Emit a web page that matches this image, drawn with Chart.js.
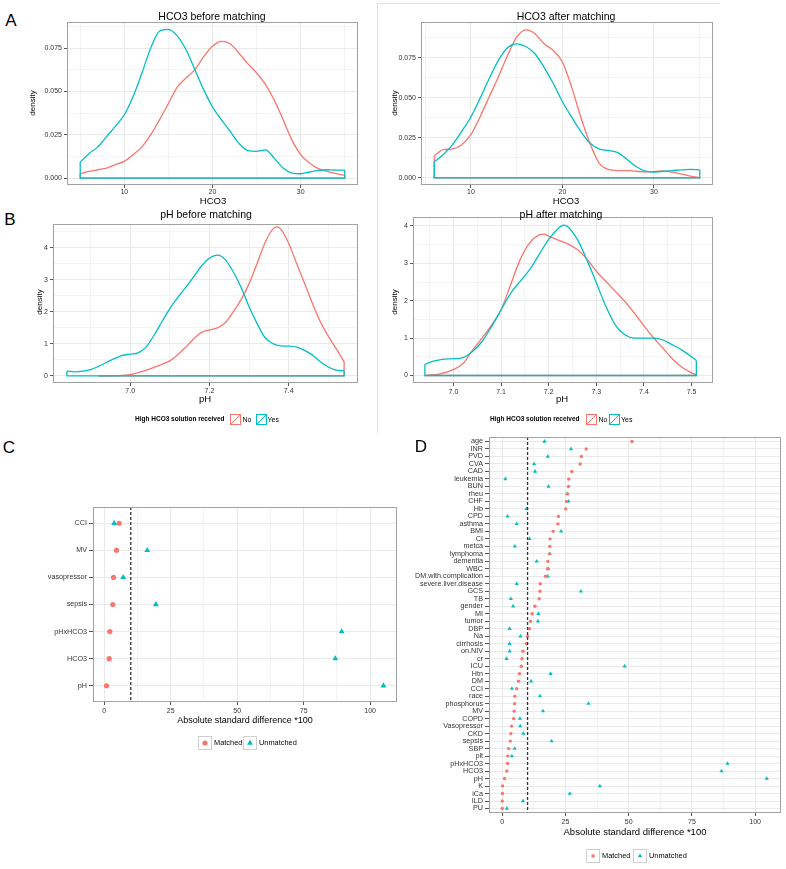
<!DOCTYPE html>
<html><head><meta charset="utf-8">
<script src="https://cdn.jsdelivr.net/npm/chart.js@4.4.1/dist/chart.umd.min.js"></script>
<style>
html,body{margin:0;padding:0;background:#fff;}
body{width:786px;height:869px;position:relative;overflow:hidden;font-family:'Liberation Sans',Arial,Helvetica,sans-serif;}
canvas{position:absolute;}
.t{position:absolute;white-space:nowrap;color:#000;line-height:1;}
.k{position:absolute;line-height:0;}
.ln{position:absolute;background:#e2e2e2;}
</style></head><body>
<script>
// ---------------- DATA ----------------
// Panel A: HCO3 densities
const hco3BeforeX = [5,6,7,8,9,10,11,12,13,14,15,16,17,18,19,20,21,22,23,24,25,26,27,28,29,30,31,32,33,34,35];
const hco3BeforeNo = [0.0025,0.0038,0.0048,0.0058,0.0077,0.0096,0.0135,0.018,0.025,0.0337,0.043,0.0525,0.0577,0.0625,0.070,0.076,0.0788,0.0775,0.072,0.066,0.0606,0.054,0.045,0.0337,0.022,0.0135,0.0087,0.0054,0.0038,0.0025,0.0015];
const hco3BeforeYes = [0.0092,0.0142,0.018,0.024,0.030,0.0365,0.047,0.0606,0.075,0.0848,0.0858,0.082,0.074,0.0625,0.051,0.041,0.0337,0.027,0.020,0.0158,0.0154,0.0163,0.0115,0.0058,0.0029,0.0025,0.0035,0.0044,0.0048,0.0046,0.0046];
const hco3AfterX = [6,7,8,9,10,11,12,13,14,15,16,17,18,19,20,21,22,23,24,25,26,27,28,29,30,31,32,33,34,35];
const hco3AfterNo = [0.0138,0.0176,0.018,0.0207,0.0269,0.038,0.0506,0.063,0.0764,0.0878,0.0924,0.09,0.0837,0.0795,0.0723,0.0568,0.038,0.0217,0.0093,0.0052,0.0045,0.0045,0.0041,0.0037,0.0039,0.0043,0.0035,0.0023,0.001,0.0002];
const hco3AfterYes = [0.0099,0.0145,0.0207,0.029,0.038,0.0496,0.062,0.0733,0.0812,0.0837,0.082,0.0775,0.069,0.0589,0.0475,0.038,0.029,0.0217,0.018,0.0171,0.0159,0.0118,0.0072,0.0043,0.0035,0.0041,0.0045,0.005,0.0052,0.005];

// Panel B: pH densities
const phBeforeYesX = [6.84,6.86,6.88,6.90,6.92,6.94,6.96,6.98,7.00,7.02,7.04,7.06,7.08,7.10,7.12,7.14,7.16,7.18,7.20,7.22,7.24,7.26,7.28,7.30,7.32,7.34,7.36,7.38,7.40,7.42,7.44,7.46,7.48,7.50,7.52,7.54];
const phBeforeYes = [0.15,0.13,0.15,0.2,0.3,0.42,0.54,0.64,0.68,0.72,0.9,1.27,1.69,2.1,2.45,2.76,3.09,3.43,3.67,3.77,3.63,3.25,2.76,2.16,1.64,1.2,1.01,0.94,0.93,0.9,0.8,0.65,0.44,0.28,0.18,0.16];
const phBeforeNoX = [6.92,6.94,6.96,6.98,7.00,7.02,7.04,7.06,7.08,7.10,7.12,7.14,7.16,7.18,7.20,7.22,7.24,7.26,7.28,7.30,7.32,7.34,7.36,7.37,7.38,7.40,7.42,7.44,7.46,7.48,7.50,7.52,7.54];
const phBeforeNo = [0,0.003,0.01,0.02,0.04,0.1,0.18,0.27,0.36,0.47,0.66,0.9,1.15,1.36,1.43,1.5,1.66,2.0,2.38,2.88,3.5,4.15,4.58,4.65,4.58,4.14,3.51,2.89,2.26,1.69,1.24,0.85,0.44];
const phAfterYesX = [6.94,6.96,6.98,7.00,7.02,7.04,7.06,7.08,7.10,7.12,7.14,7.16,7.18,7.20,7.22,7.23,7.24,7.26,7.28,7.30,7.32,7.34,7.36,7.38,7.40,7.42,7.44,7.46,7.48,7.50,7.51];
const phAfterYes = [0.30,0.39,0.44,0.45,0.48,0.64,0.91,1.31,1.76,2.2,2.52,2.83,3.24,3.64,3.93,4.02,3.98,3.64,3.1,2.48,1.85,1.35,1.09,1.0,1.0,1.0,0.95,0.82,0.68,0.5,0.40];
const phAfterNoX = [6.94,6.97,7.00,7.02,7.04,7.06,7.08,7.10,7.12,7.14,7.16,7.18,7.19,7.20,7.22,7.24,7.26,7.28,7.30,7.32,7.34,7.36,7.38,7.40,7.42,7.44,7.46,7.48,7.50,7.51];
const phAfterNo = [0.0,0.04,0.16,0.32,0.68,1.0,1.35,1.76,2.43,3.1,3.55,3.76,3.78,3.73,3.62,3.52,3.37,3.12,2.79,2.52,2.25,1.98,1.67,1.33,1.01,0.73,0.44,0.22,0.07,0.02];

// Panel C
const cCats = ['CCI','MV','vasopressor','sepsis','pHxHCO3','HCO3','pH'];
const cMatched = [5.65,4.64,3.51,3.26,2.13,1.88,0.88];
const cUnmatched = [3.76,16.19,7.15,19.45,89.3,86.9,105.0];

// Panel D
const dCats = ['age','INR','PVD','CVA','CAD','leukemia','BUN','rheu','CHF','Hb','CPD','asthma','BMI','CI','metca','lymphoma','dementia','WBC','DM.with.complication','severe.liver.disease','GCS','TB','gender','MI','tumor','DBP','Na','cirrhosis','on.NIV','cr','ICU','Htn','DM','CCI','race','phosphorus','MV','COPD','Vasopressor','CKD','sepsis','SBP','plt','pHxHCO3','HCO3','pH','K','iCa','ILD','PU'];
const dMatched = [51.3,33.2,31.3,30.8,27.5,26.3,26.2,25.8,25.4,25.1,22.2,22.0,20.1,18.9,18.8,18.7,18.0,17.9,17.1,15.0,14.9,14.6,12.9,11.8,11.2,10.8,10.0,9.6,8.2,7.8,7.5,6.8,6.4,5.7,5.0,4.9,4.7,4.5,3.7,3.4,3.2,2.5,2.2,2.1,1.8,0.9,0.1,0.1,0.0,0.0];
const dUnmatched = [16.7,27.2,18.0,12.6,13.0,1.2,18.3,25.6,26.2,9.6,2.1,5.7,23.3,10.8,5.0,18.8,13.6,18.2,18.0,5.7,31.1,3.4,4.3,14.3,14.1,2.9,7.2,2.9,2.9,1.7,48.4,19.1,11.4,3.8,14.9,34.1,16.1,7.0,7.1,8.3,19.5,4.9,3.8,89.1,86.7,104.6,38.6,26.7,8.2,1.8];
const threshold = 10;

// Tick labels
const hco3Ticks = [10,20,30];
const hco3TickLabels = ['10','20','30'];
const densTicks = [0,0.025,0.05,0.075];
const densTickLabels = ['0.000','0.025','0.050','0.075'];
const phBeforeTicks = [7.0,7.2,7.4];
const phBeforeTickLabels = ['7.0','7.2','7.4'];
const phAfterTicks = [7.0,7.1,7.2,7.3,7.4,7.5];
const phAfterTickLabels = ['7.0','7.1','7.2','7.3','7.4','7.5'];
const phDensTicks = [0,1,2,3,4];
const phDensTickLabels = ['0','1','2','3','4'];
const asdTicks = [0,25,50,75,100];
const asdTickLabels = ['0','25','50','75','100'];

// ---------------- RENDER ----------------
const FONT = "'Liberation Sans', Arial, Helvetica, sans-serif";
const RED = '#F8766D', TEAL = '#00BFC4';
Chart.defaults.font.family = FONT;

function mkTicks(major, labels, minorStep, lo, hi){
  const out = major.map((v,i)=>({v, l:labels[i]}));
  if(minorStep){
    const first = major[0];
    for(let k=-20;k<=40;k++){
      const v = first + minorStep*(k+0.5);
      if(v>lo && v<hi) out.push({v, l:''});
    }
  }
  return out;
}
function catTicks(cats){ return cats.map((c,i)=>({v:i+1,l:c})); }

const boxPlugin = {id:'box', afterDatasetsDraw(chart){
  const a = chart.chartArea, c = chart.ctx;
  c.save(); c.strokeStyle = '#a2a2a2'; c.lineWidth = 1;
  c.strokeRect(Math.round(a.left)+0.5, Math.round(a.top)+0.5, Math.round(a.right-a.left)-1, Math.round(a.bottom-a.top)-1);
  c.restore();
}};

function axis(o, dir, size){
  return {
    type:'linear', min:o.min, max:o.max, reverse:!!o.reverse,
    afterBuildTicks(s){ s.ticks = o.ticks.map(t=>({value:t.v, lab:t.l})); },
    afterFit(s){
      if(dir==='x'){ s.height = size; s.paddingLeft = 0; s.paddingRight = 0; }
      else { s.width = size; s.paddingTop = 0; s.paddingBottom = 0; }
    },
    ticks:{autoSkip:false, maxRotation:0, minRotation:0, padding:o.pad, color:'#333',
      font:{family:FONT, size:o.fs}, callback:(v,i,ts)=>ts[i].lab},
    grid:{lineWidth:1, tickLength:o.tl||3, drawTicks:true,
      color:c=>(c.tick && c.tick.lab==='')?'#f4f4f4':'#e9e9e9',
      tickColor:c=>(c.tick && c.tick.lab==='')?'rgba(0,0,0,0)':'#555'},
    border:{display:false}
  };
}

function makeChart(box, pad, datasets, xo, yo){
  const cv = document.createElement('canvas');
  const W = box.w+pad.l+pad.r, H = box.h+pad.t+pad.b;
  cv.width = W; cv.height = H;
  cv.style.left = (box.l-pad.l)+'px'; cv.style.top = (box.t-pad.t)+'px';
  cv.style.width = W+'px'; cv.style.height = H+'px';
  document.body.appendChild(cv);
  new Chart(cv, {type:'scatter', data:{datasets}, options:{
    responsive:false, animation:false, devicePixelRatio:1, events:[],
    layout:{padding:{left:0, top:pad.t, right:pad.r, bottom:0}},
    plugins:{legend:{display:false}, tooltip:{enabled:false}, title:{display:false}},
    scales:{x:axis(xo,'x',pad.b), y:axis(yo,'y',pad.l)}
  }, plugins:[boxPlugin]});
}

function densitySets(xN,yN,xY,yY){
  const curve=(xs,ys,col)=>({data:xs.map((x,i)=>({x, y:ys[i]})), showLine:true, borderColor:col, borderWidth:1.3, pointRadius:0, cubicInterpolationMode:'monotone', fill:false});
  const frame=(xs,ys,col)=>{const n=xs.length-1; return {data:[{x:xs[0],y:ys[0]},{x:xs[0],y:0},{x:xs[n],y:0},{x:xs[n],y:ys[n]}], showLine:true, borderColor:col, borderWidth:1.3, pointRadius:0, tension:0, fill:false};};
  return [curve(xY,yY,TEAL), frame(xY,yY,TEAL), curve(xN,yN,RED), frame(xN,yN,RED)];
}

function dotSets(cats, matched, unmatched, rC, rT, ymin, ymax){
  return [
    {data:[{x:threshold,y:ymin},{x:threshold,y:ymax}], showLine:true, borderColor:'#333', borderDash:[3,2], borderWidth:1.3, pointRadius:0},
    {data:cats.map((c,i)=>({x:matched[i], y:i+1})), pointStyle:'circle', pointRadius:rC, backgroundColor:RED, borderWidth:0},
    {data:cats.map((c,i)=>({x:unmatched[i], y:i+1})), pointStyle:'triangle', pointRadius:rT, backgroundColor:TEAL, borderWidth:0}
  ];
}

function txt(s,x,y,size,o={}){
  const d = document.createElement('div'); d.className='t'; d.textContent = s;
  d.style.fontSize = size+'px'; d.style.left = x+'px'; d.style.top = y+'px';
  let tr = o.left ? 'translate(0,-50%)' : 'translate(-50%,-50%)';
  if(o.rot) tr += ' rotate(-90deg)';
  d.style.transform = tr;
  if(o.bold) d.style.fontWeight = 'bold';
  if(o.color) d.style.color = o.color;
  document.body.appendChild(d);
}
function svgKey(x,y,w,h,inner){
  const d = document.createElement('div'); d.className='k';
  d.style.left = x+'px'; d.style.top = y+'px';
  d.innerHTML = `<svg width="${w}" height="${h}" xmlns="http://www.w3.org/2000/svg">${inner}</svg>`;
  document.body.appendChild(d);
}
function line(x,y,w,h){const d=document.createElement('div'); d.className='ln'; d.style.left=x+'px'; d.style.top=y+'px'; d.style.width=w+'px'; d.style.height=h+'px'; document.body.appendChild(d);}

// panel frame lines
line(377,3,343,1); line(377,3,1,430);

// ---- A left
makeChart({l:67,t:22,w:291,h:163},{l:42,t:6,r:6,b:16},
  densitySets(hco3BeforeX,hco3BeforeNo,hco3BeforeX,hco3BeforeYes),
  {min:3.5,max:36.5,ticks:mkTicks(hco3Ticks,hco3TickLabels,10,3.5,36.5),fs:7,pad:0},
  {min:-0.004,max:0.090,ticks:mkTicks(densTicks,densTickLabels,0.025,-0.004,0.090),fs:7,pad:2});
// ---- A right
makeChart({l:421,t:22,w:292,h:163},{l:42,t:6,r:6,b:16},
  densitySets(hco3AfterX,hco3AfterNo,hco3AfterX,hco3AfterYes),
  {min:4.55,max:36.45,ticks:mkTicks(hco3Ticks,hco3TickLabels,10,4.55,36.45),fs:7,pad:0},
  {min:-0.0045,max:0.0973,ticks:mkTicks(densTicks,densTickLabels,0.025,-0.0045,0.0973),fs:7,pad:2});
// ---- B left
makeChart({l:53,t:224,w:305,h:159},{l:26,t:6,r:6,b:16},
  densitySets(phBeforeNoX,phBeforeNo,phBeforeYesX,phBeforeYes),
  {min:6.805,max:7.575,ticks:mkTicks(phBeforeTicks,phBeforeTickLabels,0.2,6.805,7.575),fs:7,pad:1},
  {min:-0.22,max:4.74,ticks:mkTicks(phDensTicks,phDensTickLabels,1,-0.22,4.74),fs:7,pad:2});
// ---- B right
makeChart({l:413,t:217,w:300,h:166},{l:26,t:6,r:6,b:16},
  densitySets(phAfterNoX,phAfterNo,phAfterYesX,phAfterYes),
  {min:6.915,max:7.545,ticks:mkTicks(phAfterTicks,phAfterTickLabels,0.1,6.915,7.545),fs:7,pad:2},
  {min:-0.2,max:4.24,ticks:mkTicks(phDensTicks,phDensTickLabels,1,-0.2,4.24),fs:7,pad:2});
// ---- C
makeChart({l:93,t:507,w:304,h:195},{l:60,t:6,r:4,b:16},
  dotSets(cCats,cMatched,cUnmatched,2.6,3.4,0.4,cCats.length+0.6),
  {min:-4.2,max:110.1,ticks:mkTicks(asdTicks,asdTickLabels,25,-4.2,110.1),fs:7,pad:2,tl:3},
  {min:0.4,max:cCats.length+0.6,reverse:true,ticks:catTicks(cCats),fs:7.2,pad:2,tl:4});
// ---- D
makeChart({l:489,t:437,w:292,h:376},{l:86,t:6,r:4,b:16},
  dotSets(dCats,dMatched,dUnmatched,1.7,2.4,0.4,dCats.length+0.6),
  {min:-5.25,max:110.25,ticks:mkTicks(asdTicks,asdTickLabels,25,-5.25,110.25),fs:7,pad:2,tl:3},
  {min:0.4,max:dCats.length+0.6,reverse:true,ticks:catTicks(dCats),fs:7.2,pad:2,tl:4});

// ---- Texts
txt('A',11,20,17); txt('B',10,219,17); txt('C',9,447,17); txt('D',421,446,17);
txt('HCO3 before matching',212,16,10.5);
txt('HCO3 after matching',566,16,10.5);
txt('pH before matching',206,214,10.5);
txt('pH after matching',561,214,10.5);
txt('HCO3',213,201,9.5); txt('HCO3',566,201,9.5);
txt('density',33,103,8,{rot:1}); txt('density',395,103,8,{rot:1});
txt('pH',205,399,9.5); txt('pH',562,399,9.5);
txt('density',40,302,8,{rot:1}); txt('density',395,302,8,{rot:1});
txt('Absolute standard difference *100',245,720,9);
txt('Absolute standard difference *100',635,832,9.5);

// ---- B legends
function bLegend(tx, kNo, tNo, kYes, tYes, y){
  txt('High HCO3 solution received',tx,y,6.5,{left:1,bold:1});
  const k=(col)=>`<rect x="0.5" y="0.5" width="10" height="10" fill="none" stroke="${col}" stroke-width="1"/><line x1="0.5" y1="10.5" x2="10.5" y2="0.5" stroke="${col}" stroke-width="1"/>`;
  svgKey(kNo,y-5.5,11,11,k(RED)); txt('No',tNo,y,7,{left:1});
  svgKey(kYes,y-5.5,11,11,k(TEAL)); txt('Yes',tYes,y,7,{left:1});
}
bLegend(135,230,242.5,255.5,267.5,419);
bLegend(490,585.5,598.5,608.5,621,419);

// ---- C / D legends
function dotLegend(k1,t1,k2,t2,y,rc,rt){
  const box=`<rect x="0.5" y="0.5" width="13" height="13" fill="#fff" stroke="#cfcfcf" stroke-width="1"/>`;
  svgKey(k1,y-7,14,14,box+`<circle cx="7" cy="7" r="${rc}" fill="${RED}"/>`);
  txt('Matched',t1,y,7.4,{left:1});
  const h=rt*1.5, hw=rt*0.866;
  svgKey(k2,y-7,14,14,box+`<polygon points="7,${7-rt} ${7+hw},${7+rt/2} ${7-hw},${7+rt/2}" fill="${TEAL}"/>`);
  txt('Unmatched',t2,y,7.4,{left:1});
}
dotLegend(198,214,243,259,743,2.6,3.4);
dotLegend(585.5,602,632.5,649,856,1.8,2.6);
</script>
</body></html>
